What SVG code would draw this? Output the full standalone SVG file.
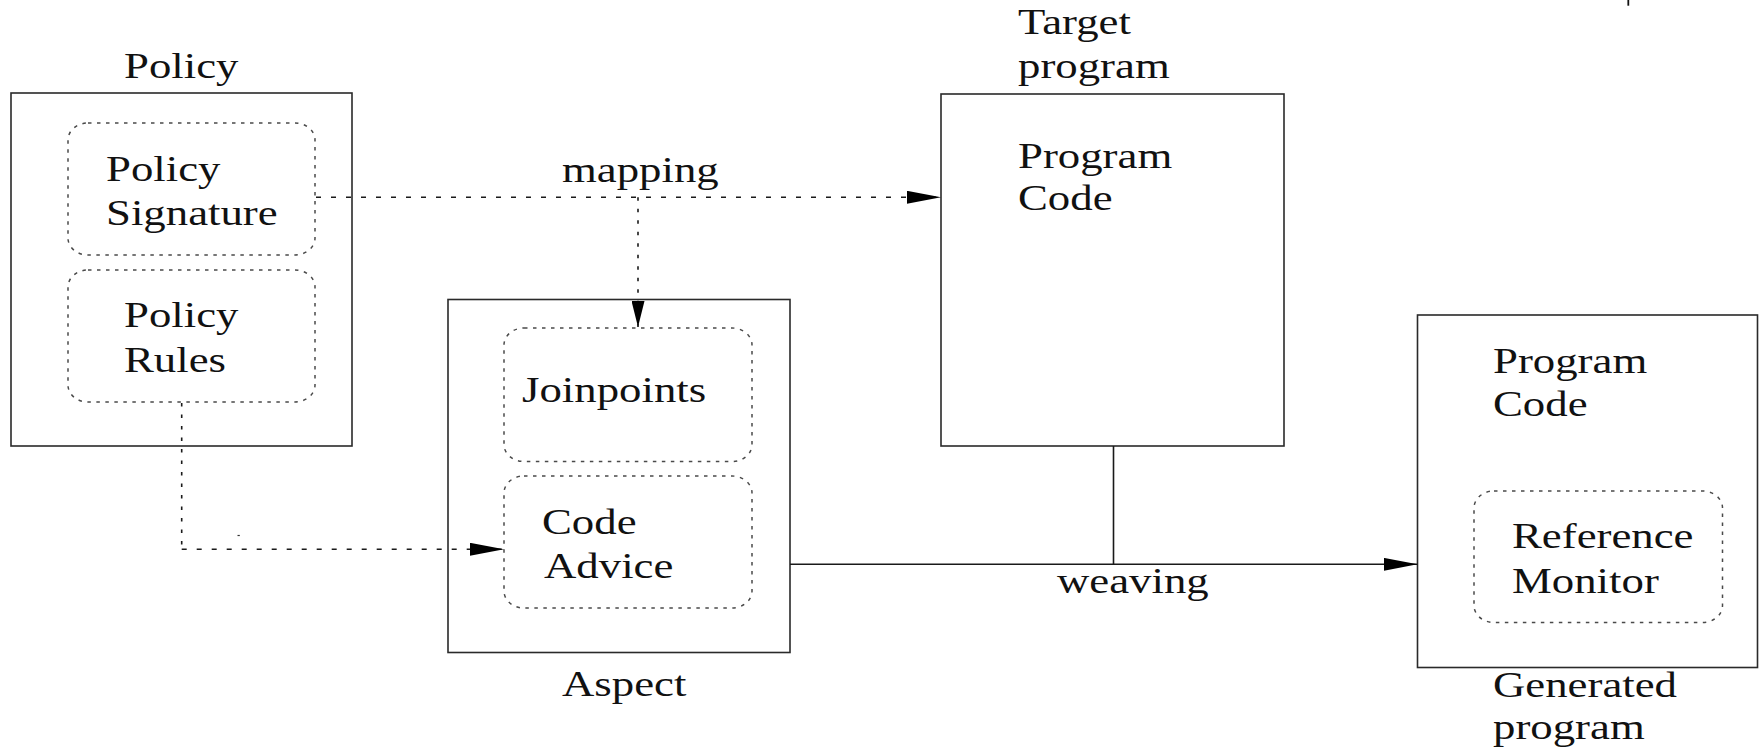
<svg xmlns="http://www.w3.org/2000/svg" width="1759" height="747" viewBox="0 0 1759 747">
  <style>
    .box { fill: none; stroke: #2a2a2a; stroke-width: 1.6; }
    .sub { fill: none; stroke: #4a4a4a; stroke-width: 1.5; stroke-dasharray: 3.5 5.5; }
    .lbl { font-family: "Liberation Serif", "Times New Roman", serif; font-size: 35px; fill: #111; }
    .solid { fill: none; stroke: #1a1a1a; stroke-width: 1.6; }
    .dh { fill: none; stroke: #1a1a1a; stroke-width: 1.6; stroke-dasharray: 5 10; }
    .dv { fill: none; stroke: #1a1a1a; stroke-width: 1.6; stroke-dasharray: 3.5 8; }
  </style>
  <defs>
    <marker id="arrowH" markerUnits="userSpaceOnUse" viewBox="0 0 34 13" refX="34" refY="6.5" markerWidth="34" markerHeight="13" orient="auto">
      <path d="M0,0 L34,6.5 L0,13 Z" fill="#000"/>
    </marker>
    <marker id="arrowV" markerUnits="userSpaceOnUse" viewBox="0 0 26 13" refX="26" refY="6.5" markerWidth="26" markerHeight="13" orient="auto">
      <path d="M0,0 L26,6.5 L0,13 Z" fill="#000"/>
    </marker>
  </defs>
  <rect width="1759" height="747" fill="#fff"/>

  <!-- Policy -->
  <g id="policy">
    <rect class="box" x="11" y="93" width="341" height="353"/>
    <text class="lbl" transform="translate(124,77.7) scale(1.28,1)">Policy</text>
  </g>
  <g id="policy-signature">
    <rect class="sub" x="68" y="123" width="247" height="132" rx="20" ry="17"/>
    <text class="lbl" transform="translate(106,181) scale(1.28,1)">Policy</text>
    <text class="lbl" transform="translate(106,225) scale(1.28,1)">Signature</text>
  </g>
  <g id="policy-rules">
    <rect class="sub" x="68" y="270" width="247" height="132" rx="20" ry="17"/>
    <text class="lbl" transform="translate(124,327) scale(1.28,1)">Policy</text>
    <text class="lbl" transform="translate(124,372) scale(1.28,1)">Rules</text>
  </g>

  <!-- Aspect -->
  <g id="aspect">
    <rect class="box" x="448" y="299.5" width="342" height="353"/>
    <text class="lbl" transform="translate(562,696) scale(1.28,1)">Aspect</text>
  </g>
  <g id="joinpoints">
    <rect class="sub" x="504" y="328" width="248" height="133.5" rx="20" ry="17"/>
    <text class="lbl" transform="translate(522,401.5) scale(1.28,1)">Joinpoints</text>
  </g>
  <g id="code-advice">
    <rect class="sub" x="504" y="476" width="248" height="132" rx="20" ry="17"/>
    <text class="lbl" transform="translate(542,534) scale(1.28,1)">Code</text>
    <text class="lbl" transform="translate(544,578) scale(1.28,1)">Advice</text>
  </g>

  <!-- Target program -->
  <g id="target-program">
    <rect class="box" x="941" y="94" width="343" height="352"/>
    <text class="lbl" transform="translate(1018,34.3) scale(1.28,1)">Target</text>
    <text class="lbl" transform="translate(1018,78) scale(1.28,1)">program</text>
    <text class="lbl" transform="translate(1018,167.7) scale(1.28,1)">Program</text>
    <text class="lbl" transform="translate(1018,210) scale(1.28,1)">Code</text>
  </g>

  <!-- Generated program -->
  <g id="generated-program">
    <rect class="box" x="1417.5" y="315" width="340" height="352.5"/>
    <text class="lbl" transform="translate(1493,372.7) scale(1.28,1)">Program</text>
    <text class="lbl" transform="translate(1493,416) scale(1.28,1)">Code</text>
    <text class="lbl" transform="translate(1493,696.7) scale(1.28,1)">Generated</text>
    <text class="lbl" transform="translate(1493,739.3) scale(1.28,1)">program</text>
  </g>
  <g id="reference-monitor">
    <rect class="sub" x="1474" y="491" width="248.5" height="131.5" rx="20" ry="17"/>
    <text class="lbl" transform="translate(1512,548.3) scale(1.28,1)">Reference</text>
    <text class="lbl" transform="translate(1512,593.3) scale(1.28,1)">Monitor</text>
  </g>

  <!-- Connectors -->
  <g id="connectors">
    <!-- mapping: signature to target program, with branch down to joinpoints -->
    <path class="dh" d="M316,197.3 H941" marker-end="url(#arrowH)"/>
    <path class="dv" d="M638,197.3 V327" marker-end="url(#arrowV)"/>
    <text class="lbl" transform="translate(562,182.3) scale(1.28,1)">mapping</text>
    <!-- rules to code advice -->
    <path class="dv" d="M181.7,403 V549.3"/>
    <path class="dh" d="M181.7,549.3 H504" marker-end="url(#arrowH)"/>
    <path d="M237.5,535.5 H239.8" stroke="#333" stroke-width="1.2"/>
    <!-- weaving: aspect and target program into generated program -->
    <path class="solid" d="M790,564.3 H1417.5" marker-end="url(#arrowH)"/>
    <path class="solid" d="M1113.5,446 V564.3"/>
    <text class="lbl" transform="translate(1057,592.7) scale(1.28,1)">weaving</text>
    <!-- edge tick at top right -->
    <path d="M1628.3,0 V5.7" stroke="#111" stroke-width="1.8"/>
  </g>
</svg>
